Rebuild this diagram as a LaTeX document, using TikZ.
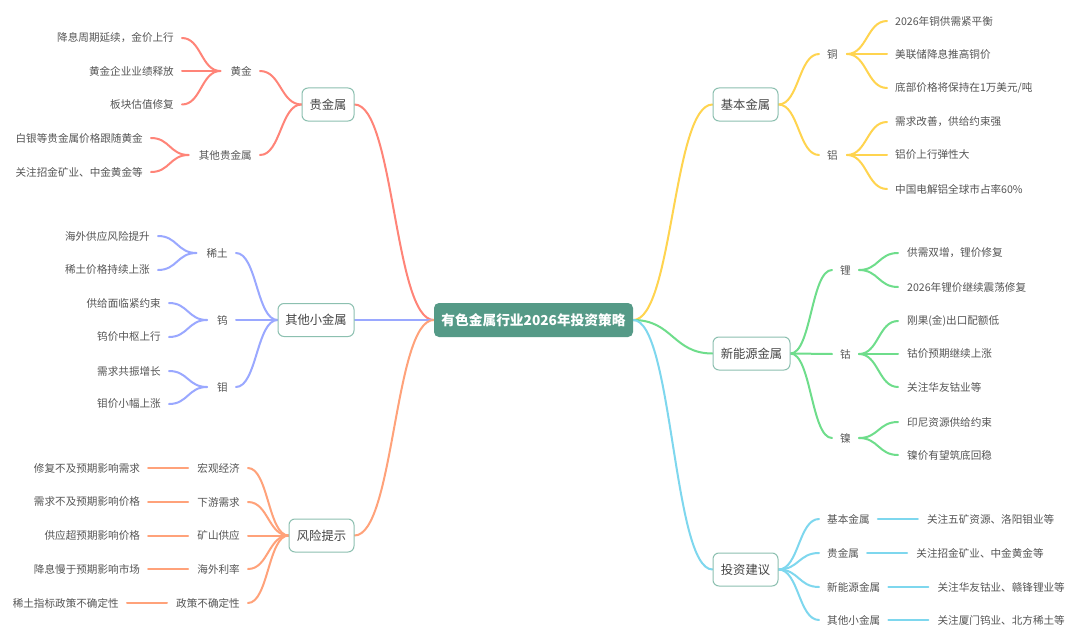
\documentclass[tikz,border=0pt]{standalone}
\usepackage{fontspec}
\setmainfont{Noto Sans CJK SC}
\usetikzlibrary{calc,positioning}
\definecolor{rootc}{HTML}{559A87}
\definecolor{boxb}{HTML}{8CC0B0}
\definecolor{txt}{HTML}{555555}
\definecolor{boxtxt}{HTML}{444444}
\definecolor{cred}{HTML}{FF8478}
\definecolor{cblue}{HTML}{9AA8FF}
\definecolor{corange}{HTML}{FFA27A}
\definecolor{cyellow}{HTML}{FFD44F}
\definecolor{cgreen}{HTML}{6EDD8B}
\definecolor{ccyan}{HTML}{7ED7EE}
\pgfdeclarelayer{bg}
\pgfsetlayers{bg,main}
\begin{document}
\begin{tikzpicture}[x=1pt,y=-1pt,
  rootnode/.style={rectangle,rounded corners=5pt,fill=rootc,text=white,font=\fontsize{13.7}{16}\selectfont\bfseries,minimum width=199pt,minimum height=34pt,inner sep=0pt},
  mainbox/.style={rectangle,rounded corners=6pt,draw=boxb,line width=1pt,fill=white,text=boxtxt,font=\fontsize{12.3}{14}\selectfont,minimum height=33pt,inner sep=0pt},
  sub/.style={text=txt,font=\fontsize{10.6}{12}\selectfont,inner sep=0pt},
  leaf/.style={sub},
  link/.style={line width=2pt,line cap=round},
  curve/.style={to path={let \p1=(\tikztostart),\p2=(\tikztotarget) in .. controls ({(\x1+\x2)/2},\y1) and ({(\x1+\x2)/2},\y2) .. (\tikztotarget)}},
]
\begin{pgfonlayer}{bg}
\fill[white] (0,0) rectangle (1080,642);
\end{pgfonlayer}
\useasboundingbox (0,0) rectangle (1080,642);

% root and main boxes
\node[rootnode] (root) at (533.5,320) {有色金属行业2026年投资策略};
\node[mainbox,minimum width=52pt] (b1) at (328,104.5) {贵金属};
\node[mainbox,minimum width=76pt] (b2) at (316,320) {其他小金属};
\node[mainbox,minimum width=65pt] (b3) at (321.5,535.5) {风险提示};
\node[mainbox,minimum width=65pt] (b4) at (745.5,104.5) {基本金属};
\node[mainbox,minimum width=77pt] (b5) at (751.5,353.5) {新能源金属};
\node[mainbox,minimum width=65pt] (b6) at (745.5,569.5) {投资建议};

% precious metals
\node[sub,anchor=east] (c11) at (252,71) {黄金};
\node[sub,anchor=east] (c12) at (252,155) {其他贵金属};
\node[leaf,anchor=east] (l111) at (174,38) {降息周期延续，金价上行};
\node[leaf,anchor=east] (l112) at (174,71) {黄金企业业绩释放};
\node[leaf,anchor=east] (l113) at (174,104.5) {板块估值修复};
\node[leaf,anchor=east] (l121) at (143,138) {白银等贵金属价格跟随黄金};
\node[leaf,anchor=east] (l122) at (143,172) {关注招金矿业、中金黄金等};

% other minor metals
\node[sub,anchor=east] (c21) at (228,253) {稀土};
\node[sub,anchor=east] (c22) at (228,320) {钨};
\node[sub,anchor=east] (c23) at (228,387) {钼};
\node[leaf,anchor=east] (l211) at (150,236) {海外供应风险提升};
\node[leaf,anchor=east] (l212) at (150,270) {稀土价格持续上涨};
\node[leaf,anchor=east] (l221) at (161,303) {供给面临紧约束};
\node[leaf,anchor=east] (l222) at (161,337) {钨价中枢上行};
\node[leaf,anchor=east] (l231) at (161,371) {需求共振增长};
\node[leaf,anchor=east] (l232) at (161,404) {钼价小幅上涨};

% risks
\node[sub,anchor=east] (c31) at (240,468) {宏观经济};
\node[sub,anchor=east] (c32) at (240,502) {下游需求};
\node[sub,anchor=east] (c33) at (240,535.5) {矿山供应};
\node[sub,anchor=east] (c34) at (240,569) {海外利率};
\node[sub,anchor=east] (c35) at (240,603) {政策不确定性};
\node[leaf,left=57pt of c31] (l31) {修复不及预期影响需求};
\node[leaf,left=57pt of c32] (l32) {需求不及预期影响价格};
\node[leaf,left=57pt of c33] (l33) {供应超预期影响价格};
\node[leaf,left=57pt of c34] (l34) {降息慢于预期影响市场};
\node[leaf,left=57pt of c35] (l35) {稀土指标政策不确定性};

% base metals
\node[sub,anchor=west] (c41) at (827,54) {铜};
\node[sub,anchor=west] (c42) at (827,155) {铝};
\node[leaf,anchor=west] (l411) at (895,21) {2026年铜供需紧平衡};
\node[leaf,anchor=west] (l412) at (895,54) {美联储降息推高铜价};
\node[leaf,anchor=west] (l413) at (895,88) {底部价格将保持在1万美元/吨};
\node[leaf,anchor=west] (l421) at (895,122) {需求改善，供给约束强};
\node[leaf,anchor=west] (l422) at (895,155) {铝价上行弹性大};
\node[leaf,anchor=west] (l423) at (895,189) {中国电解铝全球市占率60\%};

% new energy metals
\node[sub,anchor=west] (c51) at (840,270) {锂};
\node[sub,anchor=west] (c52) at (840,354) {钴};
\node[sub,anchor=west] (c53) at (840,438) {镍};
\node[leaf,anchor=west] (l511) at (907,253) {供需双增，锂价修复};
\node[leaf,anchor=west] (l512) at (907,287) {2026年锂价继续震荡修复};
\node[leaf,anchor=west] (l521) at (907,321) {刚果(金)出口配额低};
\node[leaf,anchor=west] (l522) at (907,354) {钴价预期继续上涨};
\node[leaf,anchor=west] (l523) at (907,387) {关注华友钴业等};
\node[leaf,anchor=west] (l531) at (907,422) {印尼资源供给约束};
\node[leaf,anchor=west] (l532) at (907,455) {镍价有望筑底回稳};

% investment advice
\node[sub,anchor=west] (c61) at (827,519) {基本金属};
\node[sub,anchor=west] (c62) at (827,553) {贵金属};
\node[sub,anchor=west] (c63) at (827,587) {新能源金属};
\node[sub,anchor=west] (c64) at (827,620) {其他小金属};
\node[leaf,right=57pt of c61] (l61) {关注五矿资源、洛阳钼业等};
\node[leaf,right=57pt of c62] (l62) {关注招金矿业、中金黄金等};
\node[leaf,right=57pt of c63] (l63) {关注华友钴业、赣锋锂业等};
\node[leaf,right=57pt of c64] (l64) {关注厦门钨业、北方稀土等};

\begin{pgfonlayer}{bg}
% root links
\draw[link,cred] (root.west) to[curve] (b1.east);
\draw[link,cblue] (root.west) -- (b2.east);
\draw[link,corange] (root.west) to[curve] (b3.east);
\draw[link,cyellow] (root.east) to[curve] (b4.west);
\draw[link,cgreen] (root.east) to[curve] (b5.west);
\draw[link,ccyan] (root.east) to[curve] (b6.west);

% precious
\foreach \c in {c11,c12} \draw[link,cred] ([xshift=8pt]\c.east) to[curve] (b1.west);
\foreach \l in {l111,l112,l113} \draw[link,cred] ([xshift=8pt]\l.east) to[curve] ([xshift=-10pt]c11.west);
\foreach \l in {l121,l122} \draw[link,cred] ([xshift=8pt]\l.east) to[curve] ([xshift=-10pt]c12.west);

% minor
\foreach \c in {c21,c22,c23} \draw[link,cblue] ([xshift=8pt]\c.east) to[curve] (b2.west);
\foreach \l in {l211,l212} \draw[link,cblue] ([xshift=8pt]\l.east) to[curve] ([xshift=-10pt]c21.west);
\foreach \l in {l221,l222} \draw[link,cblue] ([xshift=8pt]\l.east) to[curve] ([xshift=-10pt]c22.west);
\foreach \l in {l231,l232} \draw[link,cblue] ([xshift=8pt]\l.east) to[curve] ([xshift=-10pt]c23.west);

% risks
\foreach \i in {1,...,5} {
  \draw[link,corange] ([xshift=8pt]c3\i.east) to[curve] (b3.west);
  \draw[link,corange] ([xshift=8pt]l3\i.east) -- ([xshift=-9pt]c3\i.west);
}

% base
\foreach \c in {c41,c42} \draw[link,cyellow] (b4.east) to[curve] ([xshift=-8pt]\c.west);
\foreach \l in {l411,l412,l413} \draw[link,cyellow] ([xshift=9pt]c41.east) to[curve] ([xshift=-8pt]\l.west);
\foreach \l in {l421,l422,l423} \draw[link,cyellow] ([xshift=9pt]c42.east) to[curve] ([xshift=-8pt]\l.west);

% new energy
\foreach \c in {c51,c52,c53} \draw[link,cgreen] (b5.east) to[curve] ([xshift=-8pt]\c.west);
\foreach \l in {l511,l512} \draw[link,cgreen] ([xshift=8pt]c51.east) to[curve] ([xshift=-9pt]\l.west);
\foreach \l in {l521,l522,l523} \draw[link,cgreen] ([xshift=8pt]c52.east) to[curve] ([xshift=-9pt]\l.west);
\foreach \l in {l531,l532} \draw[link,cgreen] ([xshift=8pt]c53.east) to[curve] ([xshift=-9pt]\l.west);

% advice
\foreach \i in {1,...,4} {
  \draw[link,ccyan] (b6.east) to[curve] ([xshift=-8pt]c6\i.west);
  \draw[link,ccyan] ([xshift=8pt]c6\i.east) -- ([xshift=-9pt]l6\i.west);
}
\end{pgfonlayer}
\end{tikzpicture}
\end{document}
